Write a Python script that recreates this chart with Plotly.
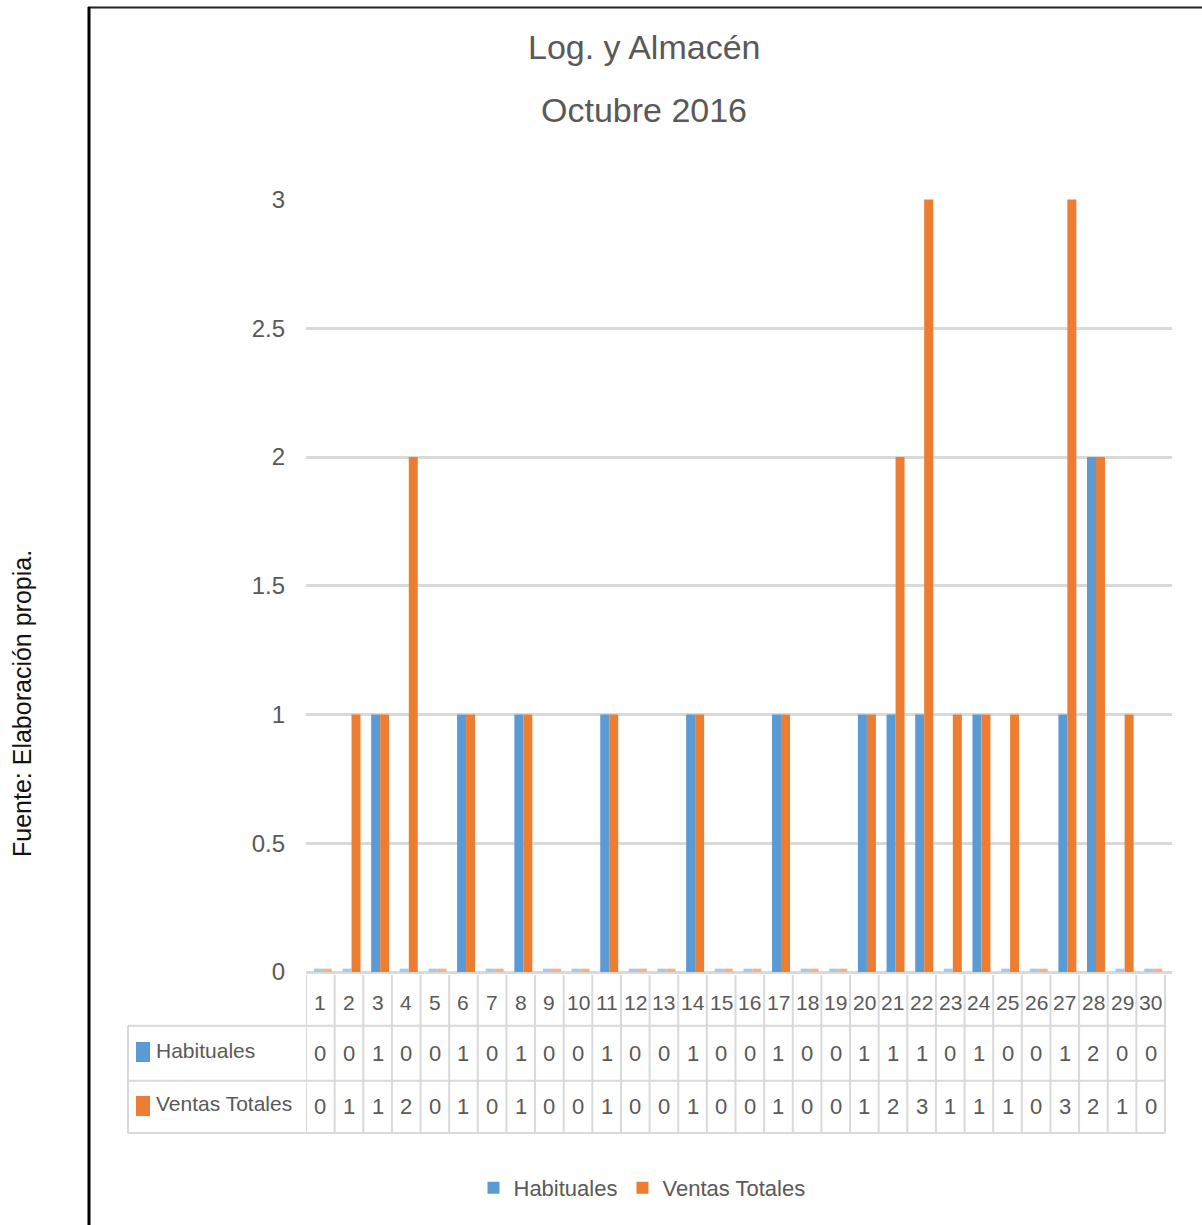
import plotly.graph_objects as go

# ---- data -------------------------------------------------------------
days = list(range(1, 31))
habituales = [0, 0, 1, 0, 0, 1, 0, 1, 0, 0, 1, 0, 0, 1, 0,
              0, 1, 0, 0, 1, 1, 1, 0, 1, 0, 0, 1, 2, 0, 0]
ventas_totales = [0, 1, 1, 2, 0, 1, 0, 1, 0, 0, 1, 0, 0, 1, 0,
                  0, 1, 0, 0, 1, 2, 3, 1, 1, 1, 0, 3, 2, 1, 0]
series_names = ["Habituales", "Ventas Totales"]
y_ticks = [0, 0.5, 1, 1.5, 2, 2.5, 3]
title_lines = ["Log. y Almacén", "Octubre 2016"]
source_note = "Fuente: Elaboración propia."

# ---- styling ----------------------------------------------------------
W, H = 1202, 1225
PLOT_L, PLOT_R, PLOT_T, PLOT_B = 306, 1172, 199, 972
TABLE_R = 1165
BLUE, ORANGE = "#5B9BD5", "#ED7D31"
BLUE_LIGHT, ORANGE_LIGHT = "#a9c8e8", "#f3b38a"
TEXT = "#595959"
GRID = "#d9d9d9"
FONT = "Liberation Sans, Arial, sans-serif"

cat_w = (TABLE_R - PLOT_L) / len(days)
x_max = len(days) + 0.5 + (PLOT_R - TABLE_R) / cat_w


def px_x(px):
    return (px - PLOT_L) / (PLOT_R - PLOT_L)


def px_y(py):
    return (PLOT_B - py) / (PLOT_B - PLOT_T)


bar_w = 0.314
shift = 0.09
offsets = [shift - bar_w, shift]
colors = [BLUE, ORANGE]
light = [BLUE_LIGHT, ORANGE_LIGHT]
series = [habituales, ventas_totales]

fig = go.Figure()
for name, vals, col, off in zip(series_names, series, colors, offsets):
    fig.add_trace(go.Bar(
        x=days, y=vals, name=name, marker=dict(color=col, line=dict(width=0)),
        width=bar_w, offset=off,
    ))

shapes = []
# thin floor slabs for zero-valued bars
for vals, col, off in zip(series, light, offsets):
    for d, v in zip(days, vals):
        if v == 0:
            shapes.append(dict(type="rect", xref="x", yref="y", layer="above",
                               x0=d + off, x1=d + off + bar_w, y0=0, y1=0.013,
                               fillcolor=col, line=dict(width=0)))

# data table grid
y_floor, y_r1, y_r2, y_r3 = 975, 1025.7, 1080.7, 1133
for k in range(len(days) + 1):
    shapes.append(dict(type="line", xref="x", yref="paper",
                       x0=k + 0.5, x1=k + 0.5, y0=px_y(y_floor), y1=px_y(y_r3),
                       line=dict(color=GRID, width=2)))
for yy in (y_r1, y_r2, y_r3):
    shapes.append(dict(type="line", xref="paper", yref="paper",
                       x0=px_x(128), x1=px_x(TABLE_R), y0=px_y(yy), y1=px_y(yy),
                       line=dict(color=GRID, width=2)))
shapes.append(dict(type="line", xref="paper", yref="paper",
                   x0=px_x(128), x1=px_x(128), y0=px_y(y_r1), y1=px_y(y_r3),
                   line=dict(color=GRID, width=2)))

# row-label colour keys
for col, (ya, yb) in zip(colors, [(1042, 1062), (1096, 1116)]):
    shapes.append(dict(type="rect", xref="paper", yref="paper",
                       x0=px_x(136), x1=px_x(150), y0=px_y(yb), y1=px_y(ya),
                       fillcolor=col, line=dict(width=0)))

# outer frame (top and left edges)
shapes.append(dict(type="line", xref="paper", yref="paper",
                   x0=px_x(88), x1=px_x(W), y0=px_y(7.5), y1=px_y(7.5),
                   line=dict(color="#222222", width=2)))
shapes.append(dict(type="line", xref="paper", yref="paper",
                   x0=px_x(89), x1=px_x(89), y0=px_y(7), y1=px_y(H),
                   line=dict(color="#000000", width=3)))

annotations = []


def label(x, y, text, size, xref="paper", xanchor="center", color=TEXT,
          family=FONT, angle=0):
    annotations.append(dict(x=x, y=y, xref=xref, yref="paper", text=text,
                            showarrow=False, xanchor=xanchor, yanchor="middle",
                            textangle=angle,
                            font=dict(family=family, size=size, color=color)))


# table cells
row_centers = [(y_floor + y_r1) / 2 + 2, (y_r1 + y_r2) / 2, (y_r2 + y_r3) / 2]
for d in days:
    label(d, px_y(row_centers[0]), str(d), 21, xref="x")
for r, vals in enumerate(series, start=1):
    for d, v in zip(days, vals):
        label(d, px_y(row_centers[r]), str(v), 22, xref="x")
for r, name in enumerate(series_names, start=1):
    label(px_x(154), px_y(row_centers[r] - 3), name, 21, xanchor="left")

# title
for txt, yc in zip(title_lines, (47, 110)):
    label(px_x(644), px_y(yc), txt, 34)

# source note
label(px_x(22), px_y(704), source_note, 25, color="#111111", angle=-90)

fig.update_layout(
    width=W, height=H,
    margin=dict(l=PLOT_L, r=W - PLOT_R, t=PLOT_T, b=H - PLOT_B, pad=0),
    paper_bgcolor="white", plot_bgcolor="white",
    barmode="group",
    showlegend=True,
    legend=dict(orientation="h", x=px_x(642), y=px_y(1188), xanchor="center",
                yanchor="middle", font=dict(family=FONT, size=22, color=TEXT),
                itemwidth=30, traceorder="normal"),
    xaxis=dict(range=[0.5, x_max], showticklabels=False, showgrid=False,
               zeroline=False, showline=False, ticks=""),
    yaxis=dict(range=[0, 3.002], tickvals=y_ticks, showgrid=True, gridcolor=GRID,
               gridwidth=3, zeroline=True, zerolinecolor=GRID, zerolinewidth=3,
               showline=False, ticks="", ticklabelstandoff=20,
               tickfont=dict(family=FONT, size=24, color=TEXT)),
    shapes=shapes,
    annotations=annotations,
)

fig.write_html("out.html")
